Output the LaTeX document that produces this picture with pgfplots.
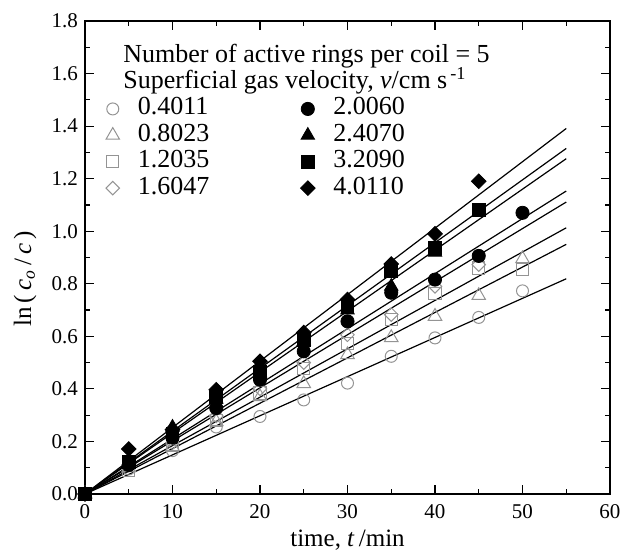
\documentclass[border=0pt]{standalone}
\usepackage{pgfplots}
\pgfplotsset{compat=1.18}
\usepackage{fontspec}
\setmainfont{Liberation Serif}
\definecolor{mkgray}{gray}{0.58}

\begin{document}
\begin{tikzpicture}
\begin{axis}[
    name=ax,
    scale only axis,
    width=262.5pt, height=236.5pt,
    xmin=0, xmax=60,
    ymin=0, ymax=1.8,
    xtick distance=10,
    ytick distance=0.2,
    minor x tick num=1,
    minor y tick num=1,
    tick align=inside,
    major tick length=4.5pt,
    minor tick length=2.5pt,
    axis line style={line width=0.7pt},
    tick style={line width=0.6pt, black},
    /pgf/number format/assume math mode=true,
    every tick label/.append style={font=\fontsize{10.5}{12}\selectfont},
    x tick label style={yshift=-1.5pt},
    y tick label style={/pgf/number format/.cd, fixed, fixed zerofill, precision=1, /tikz/.cd},
    label style={font=\fontsize{12.5}{14}\selectfont},
    xlabel={time, \textit{t}\,/min},
    ylabel={ln\,(\,\textit{c\textsubscript{o}}\,/\,\textit{c}\,)},
    xlabel style={at={(axis description cs:0.5,-0.097)}, anchor=center},
    ylabel style={at={(axis description cs:-0.114,0.455)}, anchor=center},
    clip=false,
    legend columns=4,
    transpose legend,
    legend cell align=left,
    legend image code/.code={\draw[mark repeat=2, mark phase=2, #1] plot coordinates {(0pt,0pt) (5pt,0pt) (10pt,0pt)};},
    legend style={draw=none, fill=none, inner sep=0pt, outer sep=0pt,
        at={(axis description cs:0.040,0.842)}, anchor=north west,
        font=\fontsize{13}{13}\selectfont, row sep=0pt,
        nodes={inner sep=0.6pt, text height=9pt, text depth=3pt},
        /tikz/column 1/.style={column sep=8.5pt},
        /tikz/column 2/.style={column sep=45pt},
        /tikz/column 3/.style={column sep=8.5pt}},
]
% fitted lines
\addplot[black, line width=0.6pt, forget plot] coordinates {(0,0) (55,0.819)};
\addplot[black, line width=0.6pt, forget plot] coordinates {(0,0) (55,0.950)};
\addplot[black, line width=0.6pt, forget plot] coordinates {(0,0) (55,1.013)};
\addplot[black, line width=0.6pt, forget plot] coordinates {(0,0) (55,1.111)};
\addplot[black, line width=0.6pt, forget plot] coordinates {(0,0) (55,1.153)};
\addplot[black, line width=0.6pt, forget plot] coordinates {(0,0) (55,1.276)};
\addplot[black, line width=0.6pt, forget plot] coordinates {(0,0) (55,1.315)};
\addplot[black, line width=0.6pt, forget plot] coordinates {(0,0) (55,1.391)};

% open markers
\addplot[only marks, mark=o, mark size=3pt, mkgray, mark options={line width=0.5pt}] coordinates {
    (0,0) (5,0.095) (10,0.165) (15,0.255) (20,0.295) (25,0.358) (30,0.422)
    (35,0.524) (40,0.594) (45,0.672) (50,0.773)};
\addlegendentry{0.4011}
\addplot[only marks, mark=triangle, mark size=3.9pt, mkgray, mark options={line width=0.5pt}] coordinates {
    (0,0) (5,0.100) (10,0.180) (15,0.275) (20,0.370) (25,0.420) (30,0.530)
    (35,0.595) (40,0.676) (45,0.755) (50,0.895)};
\addlegendentry{0.8023}
\addplot[only marks, mark=square, mark size=3.1pt, mkgray, mark options={line width=0.5pt}] coordinates {
    (0,0) (5,0.090) (10,0.185) (15,0.280) (20,0.385) (25,0.478) (30,0.572)
    (35,0.664) (40,0.764) (45,0.860) (50,0.855)};
\addlegendentry{1.2035}
\addplot[only marks, mark=square, mark size=2.4pt, mkgray, mark options={rotate=45, line width=0.5pt}] coordinates {
    (0,0) (5,0.110) (10,0.195) (15,0.297) (20,0.400) (25,0.500) (30,0.606)
    (35,0.683) (40,0.790) (45,0.873)};
\addlegendentry{1.6047}

% filled markers
\addplot[only marks, mark=*, mark size=3.3pt, black] coordinates {
    (0,0) (5,0.110) (10,0.215) (15,0.327) (20,0.435) (25,0.543) (30,0.657)
    (35,0.766) (40,0.816) (45,0.906) (50,1.070)};
\addlegendentry{2.0060}
\addplot[only marks, mark=triangle*, mark size=3.9pt, black] coordinates {
    (0,0) (5,0.125) (10,0.254) (15,0.360) (20,0.460) (25,0.580) (30,0.700)
    (35,0.790) (40,0.920)};
\addlegendentry{2.4070}
\addplot[only marks, mark=square*, mark size=3.2pt, black] coordinates {
    (0,0) (5,0.123) (10,0.230) (15,0.371) (20,0.466) (25,0.587) (30,0.714)
    (35,0.848) (40,0.938) (45,1.082)};
\addlegendentry{3.2090}
\addplot[only marks, mark=square*, mark size=2.6pt, black, mark options={rotate=45}] coordinates {
    (0,0) (5,0.171) (10,0.245) (15,0.397) (20,0.505) (25,0.614) (30,0.740)
    (35,0.875) (40,0.990) (45,1.190)};
\addlegendentry{4.0110}

\node[anchor=base west, inner sep=0pt, font=\fontsize{13}{13}\selectfont]
    at (axis description cs:0.0724,0.912) {Number of active rings per coil = 5};
\node[anchor=base west, inner sep=0pt, font=\fontsize{13}{13}\selectfont]
    at (axis description cs:0.0724,0.858) {Superficial gas velocity, \textit{v}/cm s\textsuperscript{\,-1}};
\end{axis}
\pgfresetboundingbox
\path ([shift={(-42.5pt,-29pt)}]ax.south west) rectangle ([shift={(9pt,10.5pt)}]ax.north east);
\end{tikzpicture}
\end{document}
